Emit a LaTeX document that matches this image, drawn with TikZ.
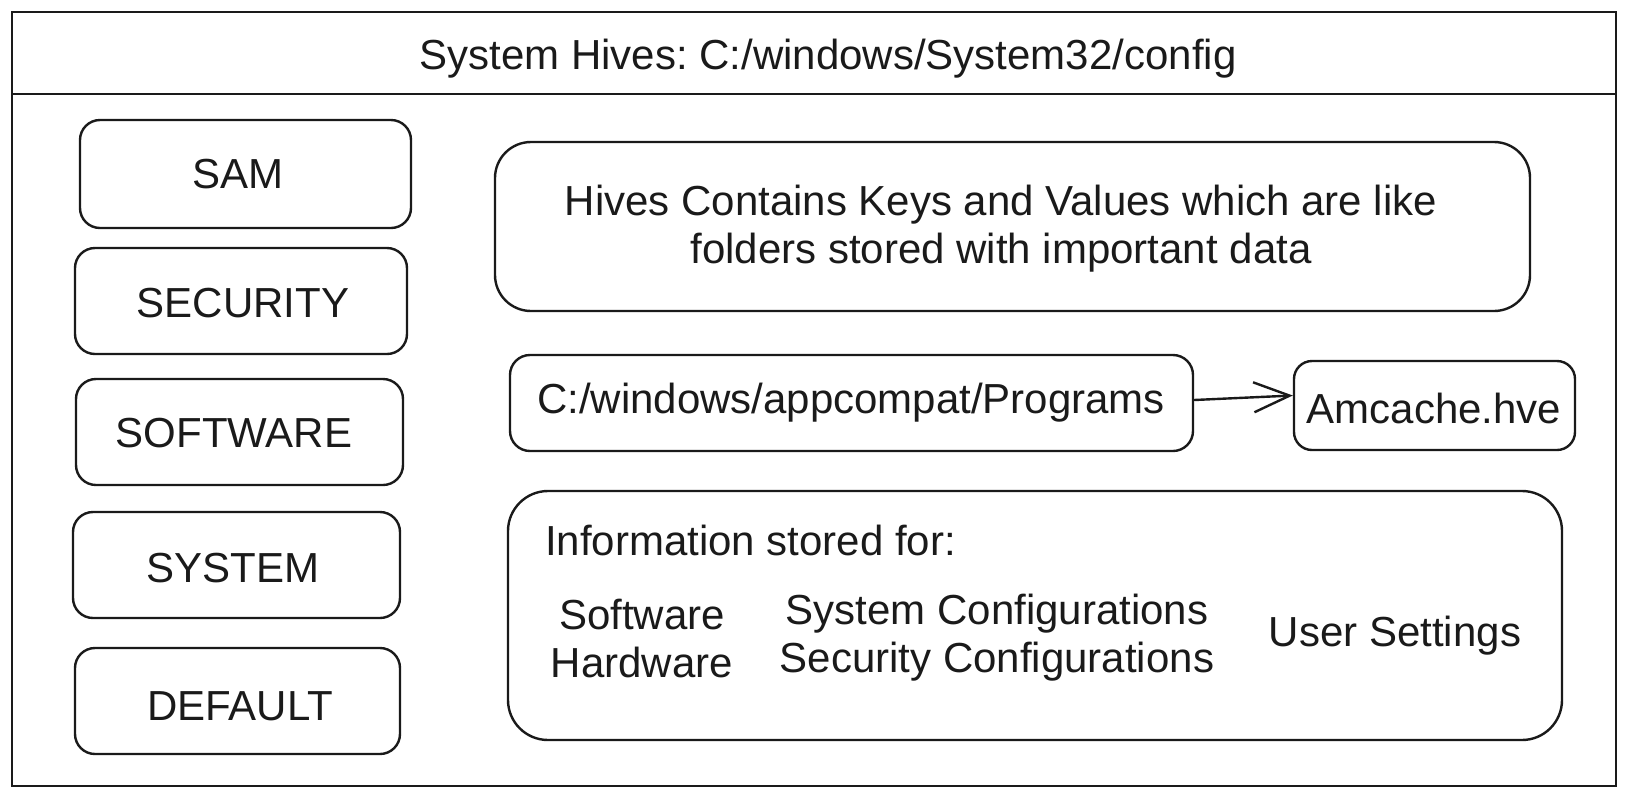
\documentclass[tikz,border=0pt]{standalone}
\usepackage{fontspec}
\setmainfont{Liberation Sans}
\usetikzlibrary{arrows.meta}
\definecolor{ink}{HTML}{1A1A1A}
\frenchspacing
\begin{document}
\begin{tikzpicture}[x=1pt,y=-1pt,
  every node/.style={font=\fontsize{42}{48}\selectfont, text=ink, inner sep=0pt},
  rbox/.style={draw=ink, line width=2.4pt, rounded corners=#1},
  rbox/.default=20pt,
  frame/.style={draw=ink, line width=2.4pt}]
\useasboundingbox (0,0) rectangle (1628,796);
\draw[frame] (12,12) rectangle (1616,786);
\draw[frame] (12,94) -- (1616,94);
\node (title) at (828,59) {System Hives: C:/windows/System32/config};

\node[rbox, minimum width=331pt, minimum height=108pt] (sam) at (245.5,174) {};
\node at (238,174) {SAM};
\node[rbox, minimum width=332pt, minimum height=106pt] (sec) at (241,301) {};
\node at (243,303) {SECURITY};
\node[rbox, minimum width=327pt, minimum height=106pt] (soft) at (239.5,432) {};
\node at (234,433) {SOFTWARE};
\node[rbox, minimum width=327pt, minimum height=106pt] (sys) at (236.5,565) {};
\node at (233,568) {SYSTEM};
\node[rbox, minimum width=325pt, minimum height=106pt] (def) at (237.5,701) {};
\node at (240,706) {DEFAULT};

\node[rbox=36pt, minimum width=1035pt, minimum height=169pt] (hives) at (1012.5,226.5) {};
\node[align=center] at (1001,229) {Hives Contains Keys and Values which are like\\folders stored with important data};

\node[rbox, minimum width=683pt, minimum height=96pt] (cw) at (851.5,403) {};
\node at (851,403) {C:/windows/appcompat/Programs};
\node[rbox=18pt, minimum width=281pt, minimum height=89pt] (am) at (1434.5,405.5) {};
\node at (1434,408) {Amcache.hve};
\draw[draw=ink, line width=2.4pt, -{Straight Barb[length=36pt,width=30pt,line width=2.4pt]}]
  ([yshift=3pt]cw.east) -- ([yshift=10pt]am.west);

\node[rbox=40pt, minimum width=1054pt, minimum height=249pt] (info) at (1035,615.5) {};
\node[anchor=west] (infot) at (545,540) {Information stored for:};
\node[align=center] (hw) at (642,638) {Software\\Hardware};
\node[align=center] (cfg) at (997,638) {System Configurations\\Security Configurations};
\node (us) at (1395,636) {User Settings};
\end{tikzpicture}
\end{document}
